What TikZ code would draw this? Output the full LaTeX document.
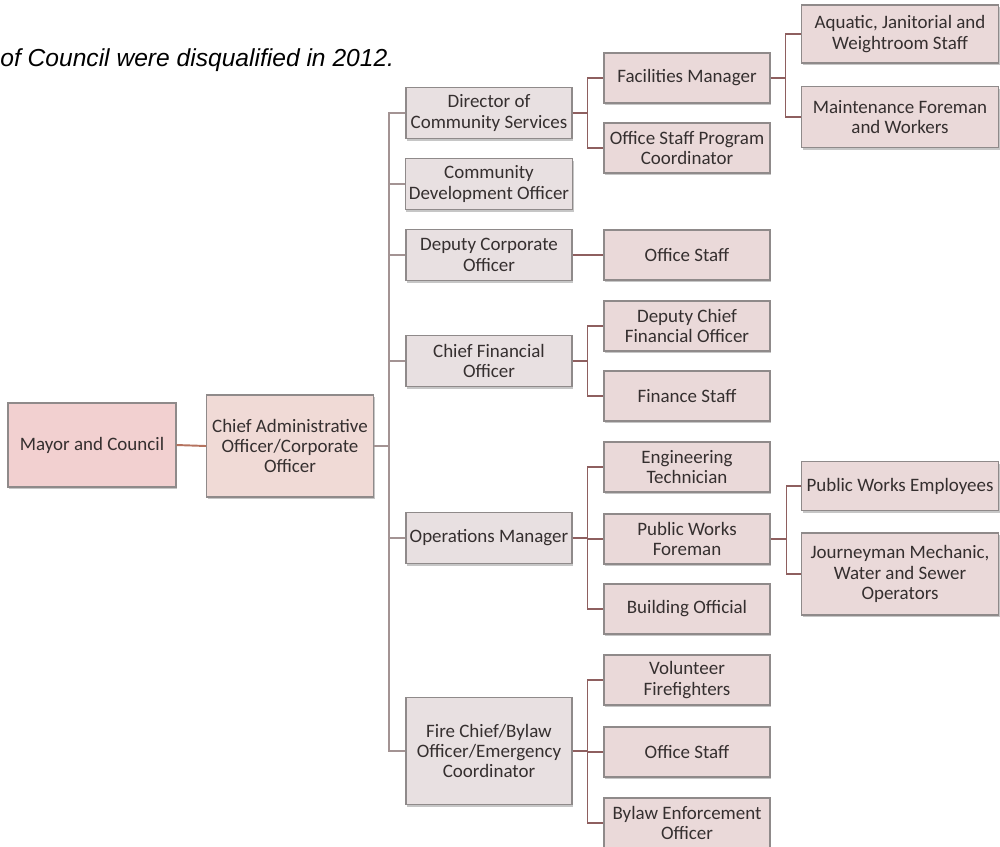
\documentclass[tikz,border=0pt]{standalone}
\usepackage{fontspec}
\setmainfont{Carlito}
\newfontfamily\notefont{Liberation Sans}
\usepackage{tikz}
\usetikzlibrary{positioning, calc, shadows}

\definecolor{boxline}{HTML}{8F8A8A}
\definecolor{boxtext}{HTML}{352F2F}
\definecolor{mayorfill}{HTML}{F2D0D0}
\definecolor{caofill}{HTML}{F0DAD6}
\definecolor{deptfill}{HTML}{E8E0E1}
\definecolor{stafffill}{HTML}{EAD9D9}
\definecolor{trunkcol}{HTML}{A39393}
\definecolor{linkcol}{HTML}{8E5F5F}
\definecolor{toplink}{HTML}{B5735F}

\tikzset{
  orgbox/.style={
    rectangle, draw=boxline, line width=0.6pt, text=boxtext,
    align=center, inner sep=2pt,
    font=\fontsize{10.8}{11.6}\selectfont,
    drop shadow={shadow xshift=0.6pt, shadow yshift=-1.3pt,
                 fill=black!50, opacity=0.45},
  },
  mayor/.style={orgbox, fill=mayorfill,
    minimum width=3.36cm, minimum height=1.68cm},
  cao/.style={orgbox, fill=caofill,
    minimum width=3.34cm, minimum height=2.04cm},
  dept/.style={orgbox, fill=deptfill,
    minimum width=3.32cm, minimum height=1.02cm},
  staff/.style={orgbox, fill=stafffill,
    minimum width=3.32cm, minimum height=1.0cm},
  crew/.style={orgbox, fill=stafffill,
    minimum width=3.94cm, minimum height=1.0cm},
  trunk/.style={draw=trunkcol, line width=1.1pt},
  link/.style={draw=linkcol, line width=1.1pt},
  note/.style={font=\notefont\itshape\fontsize{14}{16}\selectfont,
    inner sep=0pt, anchor=base west},
}

\begin{document}
\begin{tikzpicture}[x=0.02cm, y=-0.02cm]

  \useasboundingbox (0,0) rectangle (1000,846);

  % note at the top
  \node[note] (note) at (0,66) {of Council were disqualified in 2012.};

  % top of the chart
  \node[mayor] (mayor) at (92,445) {Mayor and Council};
  \node[cao] (cao) at (290,446) {Chief Administrative\\Officer/Corporate\\Officer};

  % departments
  \node[dept] (dircs)  at (489,113) {Director of\\Community Services};
  \node[dept] (cdo)    at (489,184) {Community\\Development Officer};
  \node[dept] (dco)    at (489,255) {Deputy Corporate\\Officer};
  \node[dept] (cfo)    at (489,361) {Chief Financial\\Officer};
  \node[dept] (opsmgr) at (489,538) {Operations Manager};
  \node[dept, minimum height=2.14cm] (fire) at (489,751)
    {Fire Chief/Bylaw\\Officer/Emergency\\Coordinator};

  % staff under the departments
  \node[staff] (facmgr)    at (687,78)  {Facilities Manager};
  \node[staff] (ospc)      at (687,148) {Office Staff Program\\Coordinator};
  \node[staff] (dcostaff)  at (687,255) {Office Staff};
  \node[staff] (dcfo)      at (687,326) {Deputy Chief\\Financial Officer};
  \node[staff] (finstaff)  at (687,396) {Finance Staff};
  \node[staff] (engtech)   at (687,467) {Engineering\\Technician};
  \node[staff] (pwf)       at (687,539) {Public Works\\Foreman};
  \node[staff] (bldg)      at (687,609) {Building Official};
  \node[staff] (volff)     at (687,680) {Volunteer\\Firefighters};
  \node[staff] (firestaff) at (687,752) {Office Staff};
  \node[staff] (bylaw)     at (687,823) {Bylaw Enforcement\\Officer};

  % crews on the far right
  \node[crew, minimum height=1.16cm] (aquatic) at (900,34)
    {Aquatic, Janitorial and\\Weightroom Staff};
  \node[crew, minimum height=1.22cm] (maint) at (900,117)
    {Maintenance Foreman\\and Workers};
  \node[crew, minimum height=0.98cm] (pwemp) at (900,486)
    {Public Works Employees};
  \node[crew, minimum height=1.64cm] (journey) at (900,574)
    {Journeyman Mechanic,\\Water and Sewer\\Operators};

  % connectors
  \draw[draw=toplink, line width=1.1pt] (mayor.east) -- (cao.west);

  \coordinate (tk) at (389,446);
  \draw[trunk] (cao.east) -- (tk);
  \foreach \d in {dircs, cdo, dco, cfo, opsmgr, fire}
    \draw[trunk] (tk) |- (\d.west);

  \draw[link] (dircs.east) -- ++(15,0) |- (facmgr.west);
  \draw[link] (dircs.east) -- ++(15,0) |- (ospc.west);
  \draw[link] (dco.east) -- (dcostaff.west);
  \draw[link] (cfo.east) -- ++(15,0) |- (dcfo.west);
  \draw[link] (cfo.east) -- ++(15,0) |- (finstaff.west);
  \foreach \s in {engtech, pwf, bldg}
    \draw[link] (opsmgr.east) -- ++(15,0) |- (\s.west);
  \foreach \s in {volff, firestaff, bylaw}
    \draw[link] (fire.east) -- ++(15,0) |- (\s.west);

  \draw[link] (facmgr.east) -- ++(15,0) |- (aquatic.west);
  \draw[link] (facmgr.east) -- ++(15,0) |- (maint.west);
  \draw[link] (pwf.east) -- ++(16,0) |- (pwemp.west);
  \draw[link] (pwf.east) -- ++(16,0) |- (journey.west);

\end{tikzpicture}
\end{document}
